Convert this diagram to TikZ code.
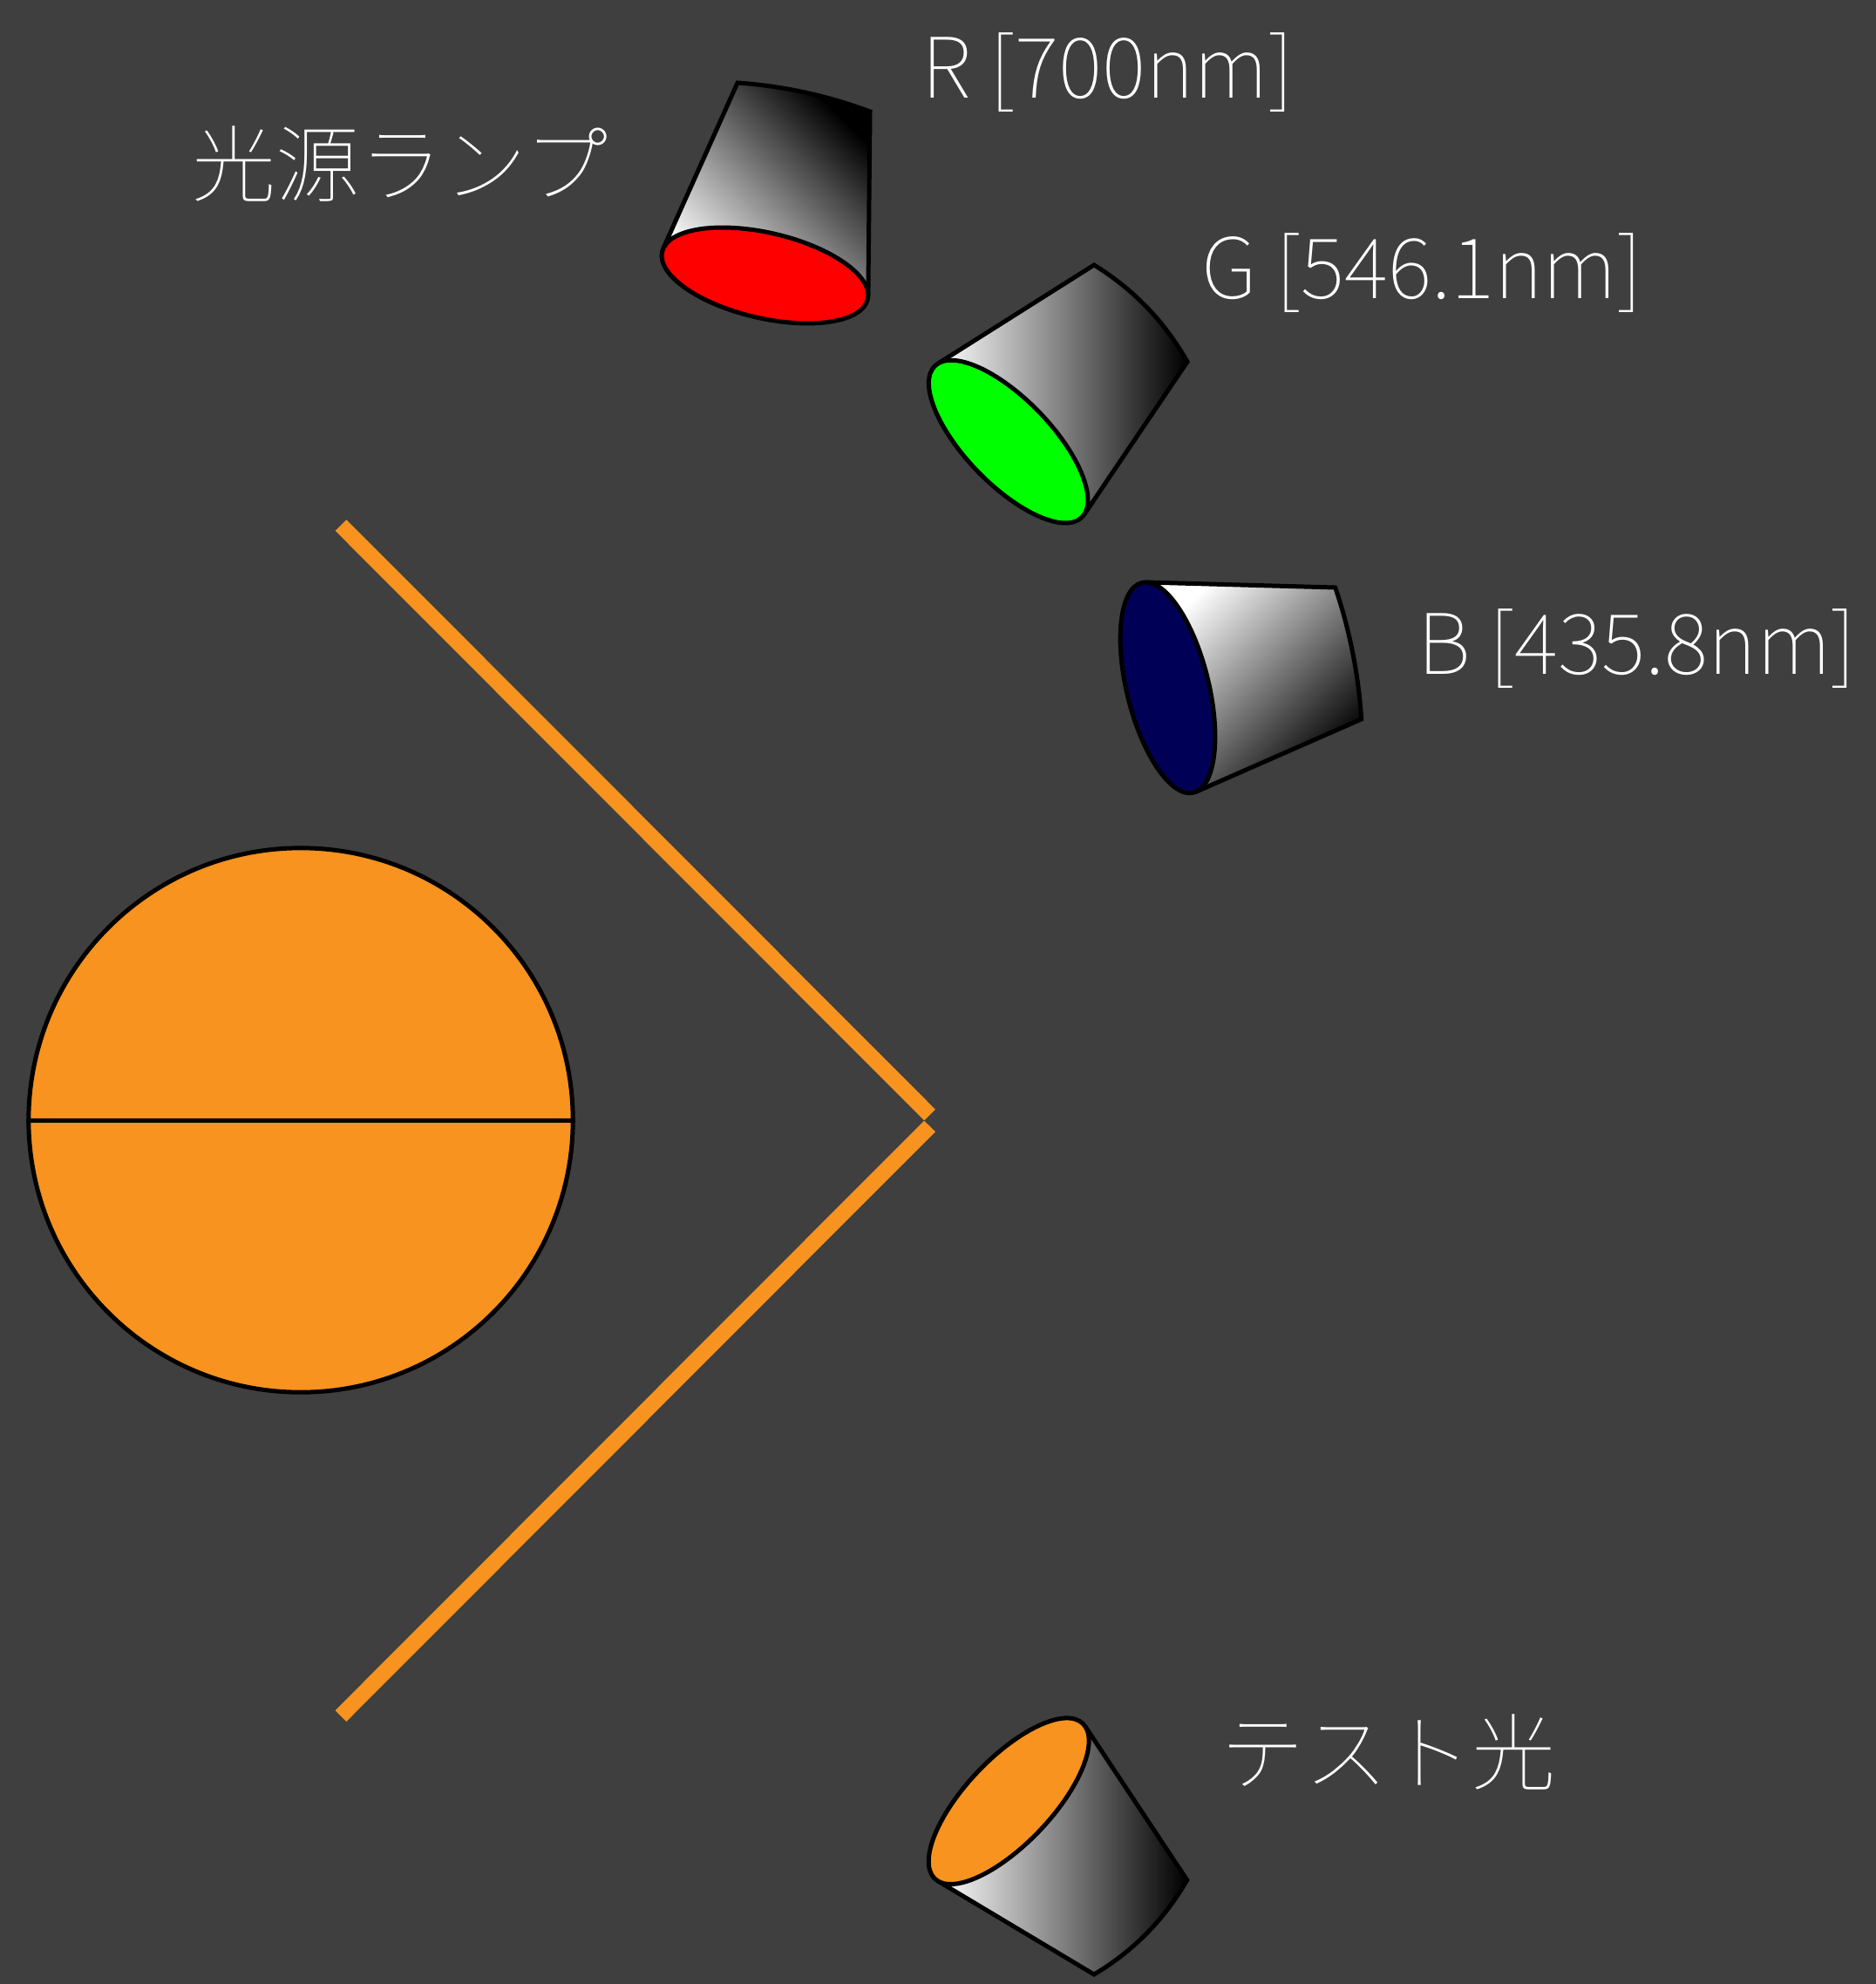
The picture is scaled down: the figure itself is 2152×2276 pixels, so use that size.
\documentclass[tikz,border=0pt]{standalone}
\usepackage{fontspec}
\IfFontExistsTF{Noto Sans CJK JP Thin}
  {\newfontfamily\jpfont{Noto Sans CJK JP Thin}}
  {\newfontfamily\jpfont{Noto Sans CJK JP Light}}
\definecolor{bg}{HTML}{3F3F3F}
\definecolor{lampred}{HTML}{FF0000}
\definecolor{lampgreen}{HTML}{00FF00}
\definecolor{lampblue}{HTML}{000057}
\definecolor{amber}{HTML}{F7931E}
\tikzset{
  outline/.style={draw=black, line width=1.42pt},
  caption/.style={text=white, inner sep=0pt, anchor=base west,
    font=\jpfont\fontsize{27.3}{32}\selectfont},
  bar/.style={draw=amber, line width=5.12pt},
  cone/.style={top color=white, bottom color=black, shading angle=#1},
}
\begin{document}
\begin{tikzpicture}[x=0.01cm, y=-0.01cm]
\fill[bg] (0,0) rectangle (2152,2276);
\useasboundingbox (0,0) rectangle (2152,2276);

% --- red lamp ---
\coordinate (rC)  at (877.5,316);
\coordinate (rBL) at (846,95);
\coordinate (rBR) at (998,128);
\coordinate (rTL) at (760.8,285.1);
\coordinate (rTR) at (995.9,338.9);
\shade[cone=135] (rTL) -- (rBL) .. controls (898.3,98.6) and (949,109.6) .. (rBR) -- (rTR) -- (rC) -- cycle;
\draw[outline] (rTL) -- (rBL) .. controls (898.3,98.6) and (949,109.6) .. (rBR) -- (rTR);
\draw[outline, fill=lampred, rotate around={-13:(rC)}] (rC) ellipse [x radius=121, y radius=49];

% --- green lamp ---
\coordinate (gC)  at (1156.7,506.7);
\coordinate (gBT) at (1255,304);
\coordinate (gBR) at (1362,415);
\coordinate (gTT) at (1075.8,417.2);
\coordinate (gTR) at (1243.6,590.4);
\shade[cone=90] (gTT) -- (gBT) .. controls (1300.2,331.8) and (1335.9,368.8) .. (gBR) -- (gTR) -- (gC) -- cycle;
\draw[outline] (gTT) -- (gBT) .. controls (1300.2,331.8) and (1335.9,368.8) .. (gBR) -- (gTR);
\draw[outline, fill=lampgreen, rotate around={-45.9:(gC)}] (gC) ellipse [x radius=121, y radius=49];

% --- blue lamp ---
\coordinate (bC)  at (1339.5,788.9);
\coordinate (bBT) at (1531.7,674);
\coordinate (bBB) at (1561.7,825);
\coordinate (bTT) at (1314.8,668);
\coordinate (bTB) at (1372,908.3);
\shade[cone=45] (bTT) -- (bBT) .. controls (1548.3,723) and (1558.3,773.4) .. (bBB) -- (bTB) -- (bC) -- cycle;
\draw[outline] (bTT) -- (bBT) .. controls (1548.3,723) and (1558.3,773.4) .. (bBB) -- (bTB);
\draw[outline, fill=lampblue, rotate around={-76.2:(bC)}] (bC) ellipse [x radius=124, y radius=47];

% --- test lamp ---
\coordinate (tC)  at (1157.2,2066.2);
\coordinate (tBR) at (1361.7,2156.7);
\coordinate (tBB) at (1255,2265);
\coordinate (tTR) at (1244.9,1980.5);
\coordinate (tTB) at (1075.9,2157.9);
\shade[cone=90] (tTR) -- (tBR) .. controls (1335.6,2202.1) and (1300.1,2238.2) .. (tBB) -- (tTB) -- (tC) -- cycle;
\draw[outline] (tTR) -- (tBR) .. controls (1335.6,2202.1) and (1300.1,2238.2) .. (tBB) -- (tTB);
\draw[outline, fill=amber, rotate around={46.4:(tC)}] (tC) ellipse [x radius=123, y radius=49];

% --- bipartite field ---
\node[outline, fill=amber, circle, inner sep=0pt, minimum size=6.24cm] (field) at (345,1285) {};
\draw[outline] (field.west) -- (field.east);

% --- screen ---
\coordinate (vTop) at (391,602.5);
\coordinate (vTip1) at (1066.5,1279);
\coordinate (vTip2) at (1066.5,1292);
\coordinate (vBot) at (391,1968.5);
\draw[bar] (vTop) -- (vTip1);
\draw[bar] (vTip2) -- (vBot);

% --- labels ---
\node[caption] (lampname) at (219.6,224.5) {光源ランプ};
\node[caption] (redname) at (1057,113) {R [700nm]};
\node[caption] (greenname) at (1378,343) {G [546.1nm]};
\node[caption] (bluename) at (1626,773) {B [435.8nm]};
\node[caption] (testname) at (1400,2046) {テスト光};
\end{tikzpicture}
\end{document}
